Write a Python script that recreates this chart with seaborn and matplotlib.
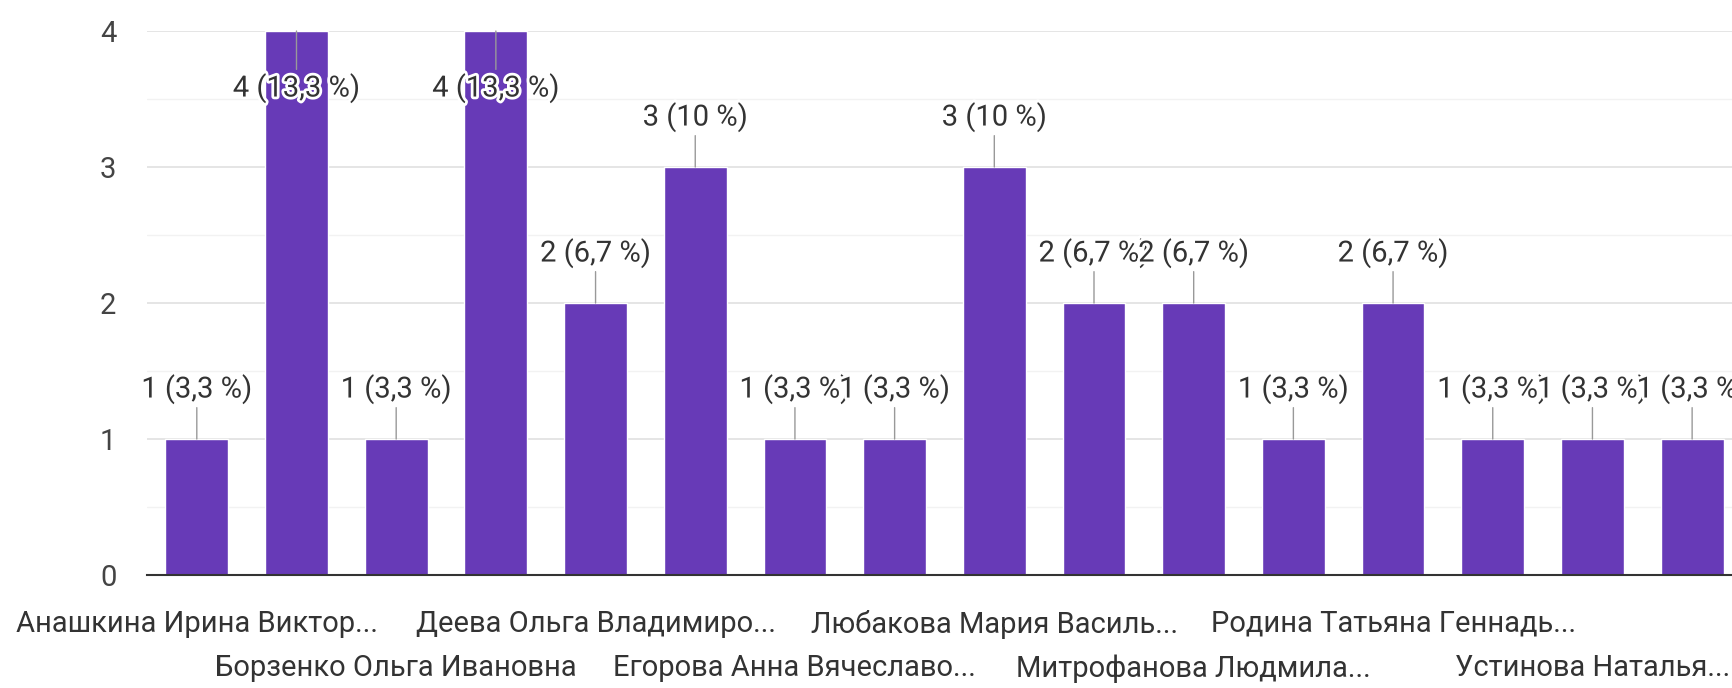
import matplotlib
matplotlib.use("Agg")
import matplotlib.pyplot as plt
import matplotlib.patheffects as pe
from matplotlib import font_manager as fm
from matplotlib.ticker import MultipleLocator
import seaborn as sns
import pandas as pd

# ---- data ----
tick_labels = [
    "Анашкина Ирина Виктор...", "",
    "Борзенко Ольга Ивановна", "",
    "Деева Ольга Владимиро...", "",
    "Егорова Анна Вячеславо...", "",
    "Любакова Мария Василь...", "",
    "Митрофанова Людмила...", "",
    "Родина Татьяна Геннадь...", "",
    "Устинова Наталья...", "",
]
counts = [1, 4, 1, 4, 2, 3, 1, 1, 3, 2, 2, 1, 2, 1, 1, 1]
y_ticks = [0, 1, 2, 3, 4]

BAR = "#673AB7"

names = {f.name for f in fm.fontManager.ttflist}
if "Liberation Sans Narrow" in names:
    FONT, FS = "Liberation Sans Narrow", 23
else:
    FONT, FS = "Roboto", 21

sns.set_theme(style="white")
plt.rcParams["font.family"] = [FONT, "DejaVu Sans"]

fig = plt.figure(figsize=(17.33, 6.88), dpi=100)
ax = fig.add_axes([0.0848, 0.1642, 0.9152, 0.7907])

df = pd.DataFrame({"pos": list(range(len(counts))), "count": counts})
sns.barplot(data=df, x="pos", y="count", color=BAR, saturation=1,
            width=0.63, ax=ax, zorder=3)

total = sum(counts)
ymax = max(counts)
for i, v in enumerate(counts):
    pct = v / total * 100
    s = f"{pct:.1f}".replace(".", ",")
    if s.endswith(",0"):
        s = s[:-2]
    label = f"{v} ({s} %)"
    off = -57 if v == ymax else 50
    ax.annotate(label, xy=(i, v), xytext=(0, off), textcoords="offset pixels",
                ha="center", va="center", fontsize=FS, color="#333333",
                zorder=6,
                path_effects=[pe.withStroke(linewidth=4, foreground="white")],
                arrowprops=dict(arrowstyle="-", color="#999999", lw=1,
                                shrinkA=0, shrinkB=0))

ax.set_xlim(-0.5, 15.41)
ax.set_ylim(0, 4)
ax.yaxis.set_major_locator(MultipleLocator(1))
ax.yaxis.set_minor_locator(MultipleLocator(0.5))
ax.set_yticks(y_ticks)
ax.set_yticklabels([str(t) for t in y_ticks])
ax.grid(axis="y", which="major", color="#e0e0e0", lw=1.2, zorder=0)
ax.grid(axis="y", which="minor", color="#f2f2f2", lw=1.0, zorder=0)
ax.grid(axis="x", visible=False)
ax.set_axisbelow(True)
for sp in ["top", "right", "left"]:
    ax.spines[sp].set_visible(False)
ax.spines["bottom"].set_color("#333333")
ax.spines["bottom"].set_linewidth(1.5)
ax.spines["bottom"].set_zorder(5)

ax.set_xlabel("")
ax.set_ylabel("")
ax.tick_params(axis="y", which="both", length=0, pad=22, labelsize=FS,
               labelcolor="#444444")
ax.tick_params(axis="x", length=0, labelsize=FS, labelcolor="#333333")
ax.set_xticks(range(len(counts)))
ax.set_xticklabels(tick_labels)
for k, t in enumerate(ax.xaxis.get_major_ticks()):
    t.set_pad(25 if (k % 4 == 0) else 57)

fig.savefig("out.png", dpi=100, facecolor="white")
